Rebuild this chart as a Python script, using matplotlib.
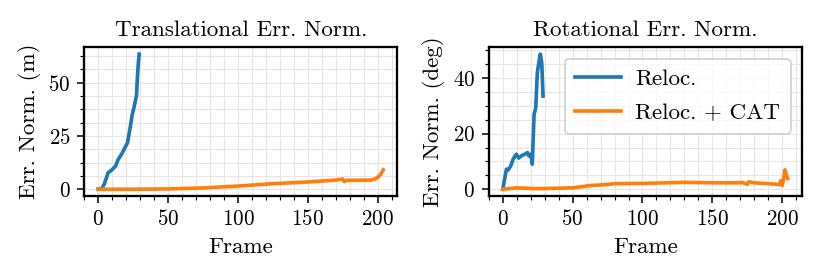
import matplotlib
matplotlib.use('Agg')
import matplotlib.pyplot as plt
from matplotlib.ticker import AutoMinorLocator, MultipleLocator

plt.rcParams['font.family'] = 'serif'
plt.rcParams['font.serif'] = ['cmr10']
plt.rcParams['mathtext.fontset'] = 'cm'
plt.rcParams['axes.formatter.use_mathtext'] = True
plt.rcParams['axes.unicode_minus'] = False

# translational error, Reloc.
trans_reloc_frames = [0, 2.4, 4.3, 7.1, 9.5, 12.4, 14.3, 16.7, 19.0, 20.9, 22.6, 24.3, 25.7, 27.4, 28.1, 28.8, 29.3]
trans_reloc_vals = [0, 0.1, 2.4, 7.8, 8.9, 10.9, 14.0, 16.4, 19.4, 21.7, 27.9, 34.9, 38.7, 44.1, 53.3, 60.0, 63.4]

# translational error, Reloc. + CAT
trans_cat_frames = [0, 25, 50, 75, 100, 125, 150, 170, 175, 176, 178, 185, 195, 198, 200, 202, 204]
trans_cat_vals = [0, 0, 0.15, 0.6, 1.5, 2.6, 3.4, 4.3, 4.8, 3.6, 4.2, 4.2, 4.3, 4.8, 5.6, 6.8, 9.1]

# rotational error, Reloc.
rot_reloc_frames = [0, 2.6, 3.8, 5.7, 7.4, 9.7, 11.4, 13.3, 15.7, 17.6, 18.6, 20.0, 21.1, 22.4, 23.6, 24.7, 25.9, 26.9, 27.9, 28.8]
rot_reloc_vals = [0, 7.2, 6.9, 8.4, 10.8, 12.6, 11.2, 12.0, 12.6, 13.2, 12.0, 12.6, 9.0, 26.9, 29.3, 41.8, 45.9, 48.6, 45.4, 33.5]

# rotational error, Reloc. + CAT
rot_cat_frames = [0, 10, 25, 50, 62, 75, 80, 100, 125, 130, 150, 165, 172, 175, 176, 180, 190, 198, 199, 200, 201, 202, 203, 204]
rot_cat_vals = [0, 0.5, 0.2, 0.5, 1.3, 1.7, 2.0, 2.1, 2.4, 2.5, 2.3, 2.3, 2.4, 1.7, 2.7, 2.3, 2.0, 1.7, 3.1, 1.3, 3.7, 7.0, 5.1, 3.9]

blue = '#1f77b4'
orange = '#ff7f0e'

fig = plt.figure(figsize=(6, 277 / (830 / 6)), dpi=830 / 6)
ax1 = fig.add_axes([0.1012, 0.2924, 0.3777, 0.5368])
ax2 = fig.add_axes([0.5886, 0.2924, 0.3777, 0.5368])

ax1.plot(trans_reloc_frames, trans_reloc_vals, color=blue, lw=1.9, label='Reloc.')
ax1.plot(trans_cat_frames, trans_cat_vals, color=orange, lw=1.9, label='Reloc. + CAT')
ax2.plot(rot_reloc_frames, rot_reloc_vals, color=blue, lw=1.9, label='Reloc.')
ax2.plot(rot_cat_frames, rot_cat_vals, color=orange, lw=1.9, label='Reloc. + CAT')

ax1.set_title('Translational Err. Norm.', fontsize=12)
ax2.set_title('Rotational Err. Norm.', fontsize=12)
ax1.set_ylabel('Err. Norm. (m)', fontsize=12)
ax2.set_ylabel('Err. Norm. (deg)', fontsize=12)

ax1.yaxis.set_major_locator(MultipleLocator(25))
ax1.yaxis.set_minor_locator(AutoMinorLocator(4))
ax2.yaxis.set_major_locator(MultipleLocator(20))
ax2.yaxis.set_minor_locator(AutoMinorLocator(4))

for ax in (ax1, ax2):
    ax.set_xlabel('Frame', fontsize=12)
    ax.xaxis.set_major_locator(MultipleLocator(50))
    ax.xaxis.set_minor_locator(AutoMinorLocator(5))
    ax.tick_params(labelsize=11)
    ax.grid(True, which='both', color='#e6e6e6', lw=0.6)
    ax.set_axisbelow(True)
    for s in ax.spines.values():
        s.set_linewidth(1.2)

ax2.legend(loc='upper right', fontsize=12, borderpad=0.45, labelspacing=0.6, handletextpad=0.6)

fig.savefig('out.png', dpi=830 / 6)
